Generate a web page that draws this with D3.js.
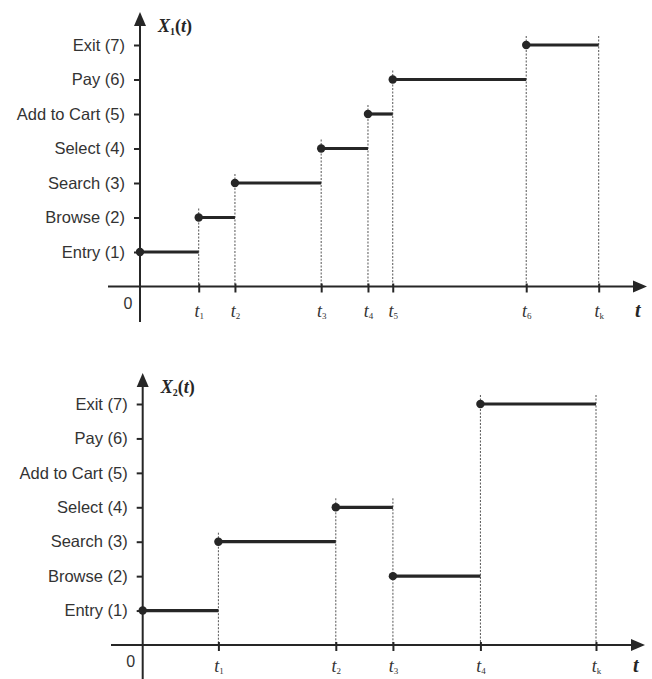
<!DOCTYPE html>
<html>
<head>
<meta charset="utf-8">
<script src="https://cdn.jsdelivr.net/npm/d3@7"></script>
<style>
  body { margin: 0; background: #fff; }
</style>
</head>
<body>
<script>
// state names on the vertical axis (value = index + 1)
const STATES = ["Entry (1)", "Browse (2)", "Search (3)", "Select (4)", "Add to Cart (5)", "Pay (6)", "Exit (7)"];

// path 1: jump times (t = 0 .. t6) and the state entered, end time tk
const TIMES_1 = [0, 12.8, 20.7, 39.5, 49.7, 55.1, 84.2];
const VALUES_1 = [1, 2, 3, 4, 5, 6, 7];
const END_1 = 100;
const SUBS_1 = ["1", "2", "3", "4", "5", "6", "k"];

// path 2
const TIMES_2 = [0, 16.7, 42.6, 55.2, 74.5];
const VALUES_2 = [1, 3, 4, 2, 7];
const END_2 = 100;
const SUBS_2 = ["1", "2", "3", "4", "k"];

const W = 652, H = 679;
const INK = "#262626";

const svg = d3.select("body").append("svg")
  .attr("width", W)
  .attr("height", H)
  .attr("xmlns", "http://www.w3.org/2000/svg");

function panel(cfg) {
  const { times, values, end, subs, idx, left, right, base, top7, axisTop, axisBottom, axisLeft, axisRight, labelDy } = cfg;

  const x = d3.scaleLinear().domain([0, end]).range([left, right]);
  const y = d3.scaleLinear().domain([0, 7]).range([base, top7]);
  const g = svg.append("g");

  // dotted guide lines
  const guides = times.slice(1).map((t, i) => ({
    t, top: Math.min(y(values[i]), y(values[i + 1])) - 9
  }));
  guides.push({ t: end, top: y(values[values.length - 1]) - 9 });
  g.append("g")
    .selectAll("line")
    .data(guides)
    .join("line")
    .attr("x1", d => x(d.t))
    .attr("x2", d => x(d.t))
    .attr("y1", d => d.top)
    .attr("y2", base)
    .attr("stroke", "#555")
    .attr("stroke-width", 1)
    .attr("stroke-dasharray", "2,1.5");

  // y axis ticks + labels
  const ya = g.append("g")
    .attr("transform", `translate(${left},0)`)
    .call(d3.axisLeft(y)
      .tickValues(d3.range(1, 8))
      .tickFormat(d => STATES[d - 1])
      .tickSize(6)
      .tickPadding(9));
  ya.select(".domain").remove();
  ya.selectAll(".tick line").attr("stroke", INK).attr("stroke-width", 2);
  ya.selectAll(".tick text")
    .attr("fill", "#333")
    .style("font-family", "'Liberation Sans', Arial, sans-serif")
    .style("font-size", "16.5px");

  // x axis ticks + labels
  const ticks = times.slice(1).concat([end]);
  const xa = g.append("g")
    .attr("transform", `translate(0,${base})`)
    .call(d3.axisBottom(x)
      .tickValues(ticks)
      .tickSize(6)
      .tickFormat(""));
  xa.select(".domain").remove();
  xa.selectAll(".tick line").attr("stroke", INK).attr("stroke-width", 2).attr("y1", -3);
  xa.selectAll(".tick text")
    .attr("y", labelDy)
    .attr("dy", null)
    .attr("fill", "#333")
    .style("font-family", "'Liberation Serif', 'Times New Roman', serif")
    .style("font-size", "18px")
    .each(function (d, i) {
      const t = d3.select(this);
      t.append("tspan").style("font-style", "italic").text("t");
      t.append("tspan").attr("dy", 2).style("font-size", "9px").text(subs[i]);
    });

  // axis lines with arrows
  g.append("line")
    .attr("x1", axisLeft).attr("x2", axisRight - 10)
    .attr("y1", base).attr("y2", base)
    .attr("stroke", INK).attr("stroke-width", 2);
  g.append("path")
    .attr("d", `M${axisRight},${base} L${axisRight - 14},${base - 6} L${axisRight - 14},${base + 6} Z`)
    .attr("fill", INK);
  g.append("line")
    .attr("x1", left).attr("x2", left)
    .attr("y1", axisTop + 10).attr("y2", axisBottom)
    .attr("stroke", INK).attr("stroke-width", 2);
  g.append("path")
    .attr("d", `M${left},${axisTop} L${left - 6},${axisTop + 14} L${left + 6},${axisTop + 14} Z`)
    .attr("fill", INK);

  // step segments
  const steps = times.map((t, i) => ({ t0: t, t1: i + 1 < times.length ? times[i + 1] : end, v: values[i] }));
  g.append("g")
    .selectAll("line")
    .data(steps)
    .join("line")
    .attr("x1", d => x(d.t0))
    .attr("x2", d => x(d.t1))
    .attr("y1", d => y(d.v))
    .attr("y2", d => y(d.v))
    .attr("stroke", INK)
    .attr("stroke-width", 3.2);

  g.append("g")
    .selectAll("circle")
    .data(steps)
    .join("circle")
    .attr("cx", d => x(d.t0))
    .attr("cy", d => y(d.v))
    .attr("r", 4.2)
    .attr("fill", INK);

  // origin, axis names
  g.append("text")
    .attr("x", left - 12).attr("y", base + 22)
    .attr("text-anchor", "middle")
    .attr("fill", "#333")
    .style("font-family", "'Liberation Sans', Arial, sans-serif")
    .style("font-size", "16px")
    .text("0");

  g.append("text")
    .attr("x", axisRight - 12).attr("y", labelDy + base)
    .attr("fill", INK)
    .style("font-family", "'Liberation Serif', 'Times New Roman', serif")
    .style("font-size", "20px")
    .style("font-weight", "bold")
    .style("font-style", "italic")
    .text("t");

  const title = g.append("text")
    .attr("x", left + 18).attr("y", axisTop + 20)
    .attr("fill", INK)
    .style("font-family", "'Liberation Serif', 'Times New Roman', serif")
    .style("font-size", "18px")
    .style("font-weight", "bold")
    .style("font-style", "italic");
  title.append("tspan").text("X");
  title.append("tspan").attr("dy", 3).style("font-size", "10px").style("font-style", "normal").text(idx);
  title.append("tspan").attr("dy", -3).style("font-style", "normal").text("(");
  title.append("tspan").text("t");
  title.append("tspan").style("font-style", "normal").text(")");
}

panel({
  times: TIMES_1, values: VALUES_1, end: END_1, subs: SUBS_1, idx: "1",
  left: 140, right: 598.7, base: 286.5, top7: 45,
  axisTop: 12, axisBottom: 322, axisLeft: 108, axisRight: 647, labelDy: 30
});

panel({
  times: TIMES_2, values: VALUES_2, end: END_2, subs: SUBS_2, idx: "2",
  left: 142.7, right: 596, base: 645, top7: 404,
  axisTop: 373, axisBottom: 679, axisLeft: 111, axisRight: 645, labelDy: 27
});
</script>
</body>
</html>
